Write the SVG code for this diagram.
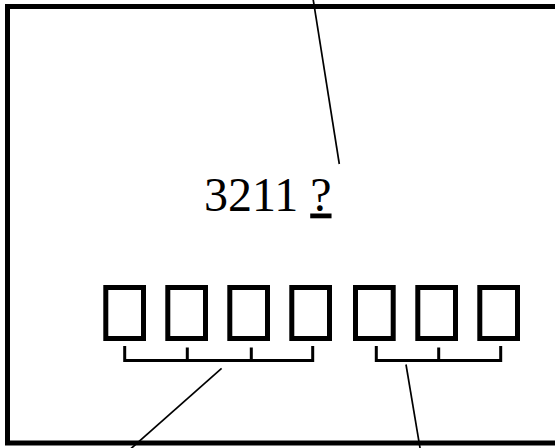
<svg xmlns="http://www.w3.org/2000/svg" width="555" height="448" viewBox="0 0 555 448">
  <style>
    .frame { fill: none; stroke: #000; stroke-width: 5; }
    .box { fill: none; stroke: #000; stroke-width: 5; }
    .bracket { fill: none; stroke: #000; stroke-width: 3; }
    .conn { fill: none; stroke: #000; stroke-width: 1.7; }
    .label { font-family: "Liberation Serif", "Times New Roman", serif; font-size: 48px; fill: #000; }
  </style>
  <rect width="555" height="448" fill="#fff"/>
  <g id="frame">
    <path class="frame" d="M 560 6.5 H 7.5 V 443 H 560"/>
  </g>
  <g id="label">
    <text class="label" x="204" y="210.5">3211 <tspan text-decoration="underline">?</tspan></text>
  </g>
  <g id="boxes">
    <rect class="box" x="105.8" y="287.5" width="37.7" height="51"/>
    <rect class="box" x="167.8" y="287.5" width="37.7" height="51"/>
    <rect class="box" x="229.8" y="287.5" width="37.7" height="51"/>
    <rect class="box" x="291.8" y="287.5" width="37.7" height="51"/>
    <rect class="box" x="355.5" y="287.5" width="37.7" height="51"/>
    <rect class="box" x="417.8" y="287.5" width="37.7" height="51"/>
    <rect class="box" x="479.8" y="287.5" width="37.7" height="51"/>
  </g>
  <g id="bracket-left">
    <path class="bracket" d="M 124.7 346 V 360.5 H 312.7 V 346 M 187.3 347.5 V 360.5 M 251.3 347.5 V 360.5"/>
  </g>
  <g id="bracket-right">
    <path class="bracket" d="M 376.3 346 V 360.5 H 500.7 V 346 M 438.7 347.5 V 360.5"/>
  </g>
  <g id="connectors">
    <line class="conn" x1="313.1" y1="-1" x2="339.3" y2="164"/>
    <line class="conn" x1="221.6" y1="368.3" x2="130.5" y2="449"/>
    <line class="conn" x1="406" y1="364.5" x2="420.2" y2="449"/>
  </g>
</svg>
